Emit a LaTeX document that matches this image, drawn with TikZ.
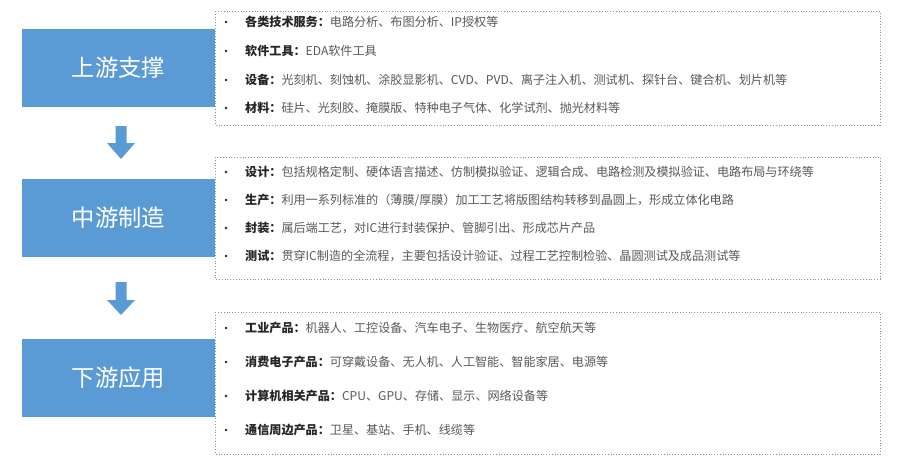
\documentclass[tikz,border=0pt]{standalone}
\usepackage{fontspec}
\setmainfont{Noto Sans CJK SC}
\definecolor{stageblue}{HTML}{5B9BD5}
\definecolor{framecol}{HTML}{7A93B8}
\definecolor{labcol}{HTML}{262626}
\definecolor{txtcol}{HTML}{595959}
\begin{document}
\begin{tikzpicture}[x=1pt,y=-1pt,
  stagebox/.style={fill=stageblue,draw=none,minimum width=193pt,minimum height=78pt,
    text=white,font=\fontsize{23.3}{25}\selectfont,inner sep=0pt},
  listframe/.style={draw=framecol,dotted,line width=0.8pt,fill=white},
  rowtext/.style={anchor=west,inner sep=0pt,text=txtcol,font=\fontsize{12.1}{14}\selectfont},
  bulletdot/.style={fill=labcol},
  flowarrow/.style={fill=stageblue,draw=none}]
\useasboundingbox (0,0) rectangle (906,464);
\fill[white] (0,0) rectangle (906,464);
% stage boxes
\node[stagebox] (s1) at (118.5,68) {上游支撑};
\node[stagebox] (s2) at (118.5,218) {中游制造};
\node[stagebox] (s3) at (118.5,378) {下游应用};
% list frames
\draw[listframe] (215,11) rectangle (880,125);
\draw[listframe] (215,157) rectangle (880,279);
\draw[listframe] (215,312) rectangle (880,454);
% arrows
\fill[flowarrow] (115.5,126) -- (126.5,126) -- (126.5,143) -- (135,143) -- (121,159) -- (107,143) -- (115.5,143) -- cycle;
\fill[flowarrow] (115.5,282) -- (126.5,282) -- (126.5,300) -- (135,300) -- (121,315) -- (107,300) -- (115.5,300) -- cycle;
% bullets
\foreach \y in {22,51,80,108,172,200,228,256,328,362,396,430}
  \fill[bulletdot] (226,\y) circle (1.3pt);
% rows
\node[rowtext] (a1) at (245,22) {{\color{labcol}\bfseries 各类技术服务：}电路分析、布图分析、IP授权等};
\node[rowtext] (a2) at (245,51) {{\color{labcol}\bfseries 软件工具：}EDA软件工具};
\node[rowtext] (a3) at (245,80) {{\color{labcol}\bfseries 设备：}光刻机、刻蚀机、涂胶显影机、CVD、PVD、离子注入机、测试机、探针台、键合机、划片机等};
\node[rowtext] (a4) at (245,108) {{\color{labcol}\bfseries 材料：}硅片、光刻胶、掩膜版、特种电子气体、化学试剂、抛光材料等};
\node[rowtext] (b1) at (245,172) {{\color{labcol}\bfseries 设计：}包括规格定制、硬体语言描述、仿制模拟验证、逻辑合成、电路检测及模拟验证、电路布局与环绕等};
\node[rowtext] (b2) at (245,200) {{\color{labcol}\bfseries 生产：}利用一系列标准的（薄膜/厚膜）加工工艺将版图结构转移到晶圆上，形成立体化电路};
\node[rowtext] (b3) at (245,228) {{\color{labcol}\bfseries 封装：}属后端工艺，对IC进行封装保护、管脚引出、形成芯片产品};
\node[rowtext] (b4) at (245,256) {{\color{labcol}\bfseries 测试：}贯穿IC制造的全流程，主要包括设计验证、过程工艺控制检验、晶圆测试及成品测试等};
\node[rowtext] (c1) at (245,328) {{\color{labcol}\bfseries 工业产品：}机器人、工控设备、汽车电子、生物医疗、航空航天等};
\node[rowtext] (c2) at (245,362) {{\color{labcol}\bfseries 消费电子产品：}可穿戴设备、无人机、人工智能、智能家居、电源等};
\node[rowtext] (c3) at (245,396) {{\color{labcol}\bfseries 计算机相关产品：}CPU、GPU、存储、显示、网络设备等};
\node[rowtext] (c4) at (245,430) {{\color{labcol}\bfseries 通信周边产品：}卫星、基站、手机、线缆等};
\end{tikzpicture}
\end{document}
